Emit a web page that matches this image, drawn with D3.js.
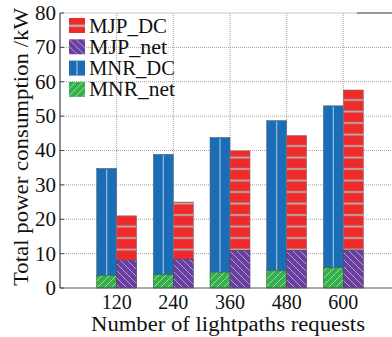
<!DOCTYPE html>
<meta charset="utf-8">
<style>
  body { margin: 0; background: #fff; }
</style>
<body>
<script src="https://d3js.org/d3.v7.min.js"></script>
<script>

  let width = 392,
    height = 337;

  // lightpath requests
  let requests = [120, 240, 360, 480, 600];
  // stacked parts, kW
  let mnrNet = [3.7, 3.9, 4.6, 5.0, 5.9];
  let mnrDC = [31.1, 35.0, 39.2, 43.7, 47.1];
  let mjpNet = [8.1, 8.4, 10.9, 10.9, 11.0];
  let mjpDC = [12.9, 16.6, 29.0, 33.5, 46.6];
  let yTicks = [0, 10, 20, 30, 40, 50, 60, 70, 80];

  let font = "'Liberation Serif', 'Times New Roman', 'DejaVu Serif'";

  let x = d3.scaleLinear().domain([0, 720]).range([60, 400]),
    y = d3.scaleLinear().domain([0, 80]).range([288, 13]);

  let barW = 20;

  let svg = d3.select("body").append("svg")
    .attr("width", width)
    .attr("height", height)
    .attr("font-family", font);

  let defs = svg.append("defs");

  // fill patterns
  function pattern(id, bg, fg, w, h, path, sw) {
    let p = defs.append("pattern")
      .attr("id", id)
      .attr("patternUnits", "userSpaceOnUse")
      .attr("width", w)
      .attr("height", h);
    p.append("rect").attr("width", w).attr("height", h).attr("fill", bg);
    p.append("path").attr("d", path).attr("stroke", fg).attr("stroke-width", sw);
    return p;
  }
  pattern("pRed", "#ee2a2b", "#b4b0b0", 20, 11.5, "M0,6.5H20", 1.8)
    .attr("y", 1.5);
  pattern("pGreen", "#34b04c", "#a9dcb2", 7, 7, "M0,7L7,0M-1,1L1,-1M6,8L8,6", 0.9);
  pattern("pPurple", "#6b3fa0", "#b9a8d8", 7, 7, "M0,0L7,7M-1,6L1,8M6,-1L8,1", 0.9);

  // grid
  let grid = svg.append("g");
  grid.selectAll(".hg")
    .data(yTicks.filter(d => d > 0 && d < 80))
    .enter().append("line")
    .attr("x1", x(0)).attr("x2", width)
    .attr("y1", d => y(d)).attr("y2", d => y(d))
    .attr("stroke", "#8a8a8a").attr("stroke-width", 0.8)
    .attr("stroke-dasharray", "1,1");
  grid.selectAll(".vg")
    .data(requests)
    .enter().append("line")
    .attr("x1", d => x(d)).attr("x2", d => x(d))
    .attr("y1", y(0)).attr("y2", y(80))
    .attr("stroke", "#8a8a8a").attr("stroke-width", 0.8)
    .attr("stroke-dasharray", "1,1");

  // bars
  let bars = svg.append("g");
  let idx = d3.range(requests.length);

  // MNR (left bar)
  bars.selectAll(".mnrdc").data(idx).enter().append("rect")
    .attr("x", i => x(requests[i]) - barW)
    .attr("width", barW)
    .attr("y", i => y(mnrNet[i] + mnrDC[i]))
    .attr("height", i => y(mnrNet[i]) - y(mnrNet[i] + mnrDC[i]))
    .attr("fill", "#1b6db5").attr("stroke", "#5a6a7a").attr("stroke-width", 0.6);
  bars.selectAll(".mnrline").data(idx).enter().append("line")
    .attr("x1", i => x(requests[i]) - barW / 2)
    .attr("x2", i => x(requests[i]) - barW / 2)
    .attr("y1", i => y(mnrNet[i] + mnrDC[i]) + 1)
    .attr("y2", i => y(mnrNet[i]))
    .attr("stroke", "#9dbde0").attr("stroke-width", 1.2);
  bars.selectAll(".mnrnet").data(idx).enter().append("rect")
    .attr("x", i => x(requests[i]) - barW)
    .attr("width", barW)
    .attr("y", i => y(mnrNet[i]))
    .attr("height", i => y(0) - y(mnrNet[i]))
    .attr("fill", "url(#pGreen)").attr("stroke", "#3a5a3a").attr("stroke-width", 0.6);

  // MJP (right bar)
  bars.selectAll(".mjpdc").data(idx).enter().append("rect")
    .attr("x", i => x(requests[i]))
    .attr("width", barW)
    .attr("y", i => y(mjpNet[i] + mjpDC[i]))
    .attr("height", i => y(mjpNet[i]) - y(mjpNet[i] + mjpDC[i]))
    .attr("fill", "url(#pRed)").attr("stroke", "#8a6a6a").attr("stroke-width", 0.6);
  bars.selectAll(".mjpnet").data(idx).enter().append("rect")
    .attr("x", i => x(requests[i]))
    .attr("width", barW)
    .attr("y", i => y(mjpNet[i]))
    .attr("height", i => y(0) - y(mjpNet[i]))
    .attr("fill", "url(#pPurple)").attr("stroke", "#4a3a5a").attr("stroke-width", 0.6);

  // axes
  svg.append("line")
    .attr("x1", x(0)).attr("x2", width)
    .attr("y1", y(0)).attr("y2", y(0))
    .attr("stroke", "#555").attr("stroke-width", 1.2);
  svg.append("line")
    .attr("x1", x(0)).attr("x2", x(0))
    .attr("y1", y(0)).attr("y2", y(80))
    .attr("stroke", "#444").attr("stroke-width", 1.2);
  svg.append("line")
    .attr("x1", x(0)).attr("x2", 357)
    .attr("y1", y(80)).attr("y2", y(80))
    .attr("stroke", "#c8c8c8").attr("stroke-width", 1.2);
  svg.append("line")
    .attr("x1", 357).attr("x2", width)
    .attr("y1", y(80)).attr("y2", y(80))
    .attr("stroke", "#333").attr("stroke-width", 1.2);

  svg.selectAll(".yt").data(yTicks).enter().append("line")
    .attr("x1", x(0)).attr("x2", x(0) + 4)
    .attr("y1", d => y(d)).attr("y2", d => y(d))
    .attr("stroke", "#444").attr("stroke-width", 1);

  svg.selectAll(".yl").data(yTicks).enter().append("text")
    .attr("x", 56)
    .attr("y", d => y(d))
    .attr("dy", "0.33em")
    .attr("text-anchor", "end")
    .attr("font-size", 21)
    .attr("fill", "#111")
    .text(d => d);

  svg.selectAll(".xl").data(requests).enter().append("text")
    .attr("x", d => x(d))
    .attr("y", 309)
    .attr("text-anchor", "middle")
    .attr("font-size", 20)
    .attr("fill", "#111")
    .text(d => d);

  svg.append("text")
    .attr("x", 228)
    .attr("y", 331)
    .attr("text-anchor", "middle")
    .attr("font-size", 20)
    .attr("textLength", 274)
    .attr("lengthAdjust", "spacingAndGlyphs")
    .attr("fill", "#111")
    .text("Number of lightpaths requests");

  svg.append("text")
    .attr("transform", "translate(28,147) rotate(-90)")
    .attr("text-anchor", "middle")
    .attr("font-size", 20)
    .attr("textLength", 278)
    .attr("lengthAdjust", "spacingAndGlyphs")
    .attr("fill", "#111")
    .text("Total power consumption /kW");

  // legend
  let legendNames = ["MJP_DC", "MJP_net", "MNR_DC", "MNR_net"];
  let legendFills = ["url(#pRed)", "url(#pPurple)", "#1b6db5", "url(#pGreen)"];
  let legendLen = [78, 78, 86, 86];
  let leg = svg.append("g");
  let rows = leg.selectAll("g").data(legendNames).enter().append("g")
    .attr("transform", (d, i) => "translate(69," + (18 + i * 21.3) + ")");
  rows.append("rect")
    .attr("width", 16).attr("height", 15)
    .attr("fill", (d, i) => legendFills[i]);
  rows.filter((d, i) => i === 0).append("line")
    .attr("x1", 0).attr("x2", 16).attr("y1", 7.5).attr("y2", 7.5)
    .attr("stroke", "#b4b0b0").attr("stroke-width", 1.6);
  rows.filter((d, i) => i === 2).append("line")
    .attr("x1", 8).attr("x2", 8).attr("y1", 0).attr("y2", 15)
    .attr("stroke", "#9dbde0").attr("stroke-width", 1.2);
  rows.append("text")
    .attr("x", 20).attr("y", 7.5).attr("dy", "0.35em")
    .attr("font-size", 20)
    .attr("textLength", (d, i) => legendLen[i])
    .attr("lengthAdjust", "spacingAndGlyphs")
    .attr("fill", "#111")
    .text(d => d);

</script>
